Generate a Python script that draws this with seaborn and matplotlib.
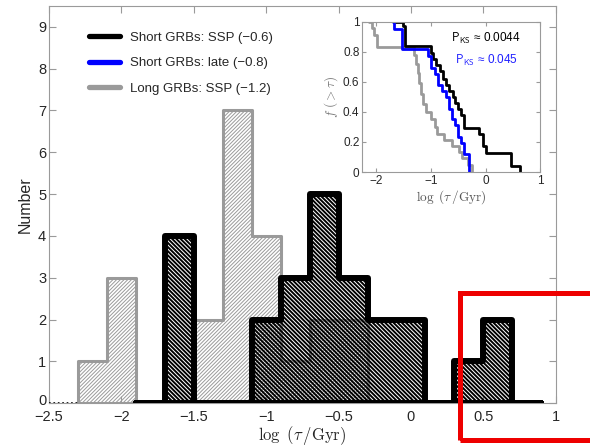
import matplotlib
matplotlib.use("Agg")
import matplotlib.pyplot as plt
import matplotlib.transforms as mtransforms
from matplotlib.lines import Line2D
from matplotlib.patches import Rectangle
import seaborn as sns

# histogram of log(tau/Gyr), 0.2 dex bins
short_edges = [-1.9, -1.7, -1.5, -1.3, -1.1, -0.9, -0.7, -0.5, -0.3, -0.1, 0.1, 0.3, 0.5, 0.7, 0.9]
short_counts = [0, 4, 0, 0, 2, 3, 5, 3, 2, 2, 0, 1, 2, 0]
long_edges = [-2.3, -2.1, -1.9, -1.7, -1.5, -1.3, -1.1, -0.9, -0.7, -0.5, -0.3]
long_counts = [1, 3, 0, 0, 2, 7, 4, 1, 2, 2]
empty_span = [-2.5, -2.3]

legend_labels = ["Short GRBs: SSP (\u22120.6)",
                 "Short GRBs: late (\u22120.8)",
                 "Long GRBs: SSP (\u22121.2)"]

# cumulative distributions f(>tau) for the inset (step positions and levels)
ssp_x = [-1.68, -1.50, -1.47, -1.00, -0.96, -0.90, -0.84, -0.78, -0.72, -0.66,
         -0.60, -0.55, -0.50, -0.45, -0.40, -0.12, -0.05, 0.00, 0.47, 0.62]
ssp_y = [1.0, 0.97, 0.84, 0.79, 0.75, 0.71, 0.67, 0.62, 0.58, 0.54,
         0.50, 0.46, 0.42, 0.38, 0.29, 0.25, 0.17, 0.125, 0.04, 0.0]
late_x = [-1.69, -1.68, -1.52, -1.05, -1.00, -0.93, -0.86, -0.80, -0.72, -0.66,
          -0.61, -0.56, -0.50, -0.45, -0.40, -0.31]
late_y = [1.0, 0.95, 0.82, 0.77, 0.69, 0.65, 0.58, 0.54, 0.50, 0.42,
          0.35, 0.31, 0.23, 0.19, 0.12, 0.0]
long_x = [-2.12, -2.08, -2.03, -1.98, -1.30, -1.27, -1.24, -1.21, -1.18, -1.15,
          -1.08, -1.00, -0.93, -0.88, -0.76, -0.61, -0.49, -0.43, -0.33, -0.25]
long_y = [1.0, 0.955, 0.91, 0.83, 0.78, 0.72, 0.66, 0.59, 0.52, 0.45,
          0.40, 0.35, 0.30, 0.25, 0.21, 0.17, 0.13, 0.09, 0.05, 0.0]
pks_text = ["0.0044", "0.045"]

GRAY = "#9a9a9a"
BLUE = "#0000ff"

sns.set_style("ticks")
plt.rcParams["font.family"] = ["Liberation Sans", "DejaVu Sans"]
plt.rcParams["mathtext.fontset"] = "cm"


def centers(edges):
    return [(a + b) / 2 for a, b in zip(edges[:-1], edges[1:])]


fig = plt.figure(figsize=(5.9, 4.48), dpi=100)
ax = fig.add_axes([0.083, 0.100, 0.859, 0.887])

with plt.rc_context({"hatch.linewidth": 0.7}):
    sns.histplot(x=centers(long_edges), weights=long_counts, bins=long_edges,
                 element="step", fill=True, color=GRAY, facecolor="none", edgecolor=GRAY,
                 hatch="/" * 9, linewidth=2.2, ax=ax, zorder=2)
with plt.rc_context({"hatch.linewidth": 1.4}):
    sns.histplot(x=centers(short_edges), weights=short_counts, bins=short_edges,
                 element="step", fill=True, color="black", facecolor="none", edgecolor="black",
                 hatch="\\" * 8, linewidth=4.3, ax=ax, zorder=3)
ax.hlines(0, empty_span[0], empty_span[1], colors="black", linestyles=":",
          linewidth=1.2, zorder=3)

ax.set_xlim(-2.5, 1)
ax.set_ylim(0, 9.5)
ax.set_xticks([-2.5, -2, -1.5, -1, -0.5, 0, 0.5, 1])
ax.set_xticklabels(["\u22122.5", "\u22122", "\u22121.5", "\u22121", "\u22120.5", "0", "0.5", "1"])
ax.set_yticks(range(10))
ax.tick_params(direction="in", length=5, color=GRAY, top=True, right=True,
               labelsize=10.5, pad=2)
ax.tick_params(axis="x", pad=5)
# nudge the "0" label up a little so it sits just above "-2.5"
zero_lab = ax.get_yticklabels()[0]
zero_lab.set_transform(zero_lab.get_transform() +
                       mtransforms.ScaledTranslation(0, 3 / 72, fig.dpi_scale_trans))
for s in ax.spines.values():
    s.set_color(GRAY)
    s.set_linewidth(0.8)
ax.set_xlabel(r"$\log\ (\tau\,/\mathrm{Gyr})$", fontsize=12, labelpad=0)
ax.set_ylabel("Number", fontsize=11.5, labelpad=4)

handles = [Line2D([], [], color="black", lw=3.8),
           Line2D([], [], color=BLUE, lw=3.8),
           Line2D([], [], color=GRAY, lw=3.8)]
ax.legend(handles, legend_labels, loc="upper left", frameon=False,
          bbox_to_anchor=(0.055, 0.965), fontsize=9.5, handlelength=2.4,
          handletextpad=0.75, labelspacing=1.0)

# inset with cumulative distributions
axin = fig.add_axes([0.614, 0.616, 0.302, 0.336])
sns.lineplot(x=long_x, y=long_y, drawstyle="steps-post", estimator=None,
             sort=False, color=GRAY, linewidth=2.0, ax=axin)
sns.lineplot(x=ssp_x, y=ssp_y, drawstyle="steps-post", estimator=None,
             sort=False, color="black", linewidth=2.0, ax=axin)
sns.lineplot(x=late_x, y=late_y, drawstyle="steps-post", estimator=None,
             sort=False, color=BLUE, linewidth=2.0, ax=axin)
axin.set_xlim(-2.25, 1)
axin.set_ylim(0, 1)
axin.set_xticks([-2, -1, 0, 1])
axin.set_xticklabels(["\u22122", "\u22121", "0", "1"])
axin.set_yticks([0, 0.2, 0.4, 0.6, 0.8, 1])
axin.set_yticklabels(["0", "0.2", "0.4", "0.6", "0.8", "1"])
axin.tick_params(direction="in", length=3, color=GRAY, top=True, right=True,
                 labelsize=8.5, pad=2)
for s in axin.spines.values():
    s.set_color(GRAY)
    s.set_linewidth(0.8)
axin.set_xlabel(r"$\log\ (\tau\,/\mathrm{Gyr})$", fontsize=9.5, color="#555555", labelpad=1)
axin.set_ylabel(r"$f\ (>\tau)$", fontsize=9.5, color="#777777", labelpad=2)
pks = r"$\mathsf{P}_{\mathsf{KS}}$" + " \u2248 "
axin.text(0.50, 0.89, pks + pks_text[0],
          transform=axin.transAxes, fontsize=8.5, color="black", va="center")
axin.text(0.52, 0.74, pks + pks_text[1],
          transform=axin.transAxes, fontsize=8.5, color="#2020ff", va="center")

# red highlight box around the late-time tail
fig.patches.append(Rectangle((0.779, 0.017), 0.30, 0.33, transform=fig.transFigure,
                             fill=False, edgecolor="#ee0000", linewidth=3.6,
                             clip_on=False, zorder=10))

fig.savefig("out.png", dpi=100)
